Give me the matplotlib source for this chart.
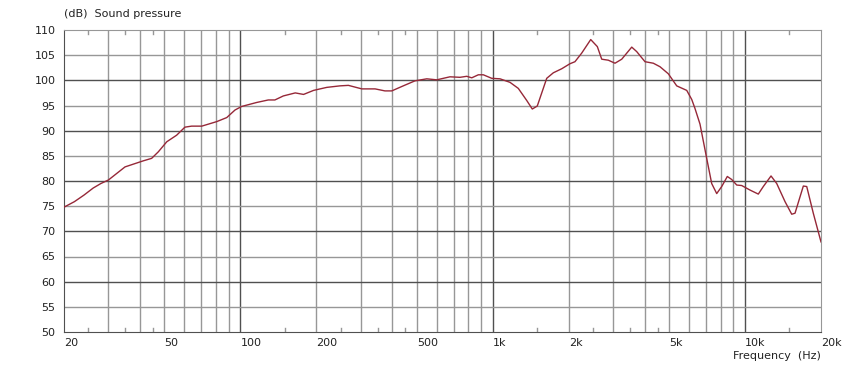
import matplotlib
matplotlib.use("Agg")
import matplotlib.pyplot as plt
import numpy as np

# frequency response
freq = [20, 22, 24, 26.1, 28, 30, 34.9, 41.2, 44.5, 47.3, 51.1, 55.9, 60.3, 64.1, 70.3,
        80.6, 88.3, 95.2, 101, 116, 129, 137, 148, 165, 178, 195, 207, 220, 248, 268,
        303, 342, 374, 398, 442, 492, 548, 600, 677, 742, 789, 826, 877, 918, 991,
        1069, 1171, 1263, 1364, 1435, 1502, 1637, 1739, 1877, 2024, 2118, 2252, 2446,
        2598, 2704, 2872, 3053, 3246, 3556, 3722, 4014, 4330, 4603, 4966, 5361, 5874,
        6148, 6334, 6630, 7048, 7376, 7722, 8082, 8506, 8854, 9268, 9700, 10464, 11287,
        11814, 12676, 13352, 14404, 15310, 15778, 17022, 17558, 18642, 20000]
spl = [74.8, 75.9, 77.2, 78.6, 79.5, 80.2, 82.8, 84.0, 84.5, 85.8, 87.8, 89.1, 90.7, 90.9, 90.9,
       91.8, 92.6, 94.1, 94.8, 95.6, 96.1, 96.1, 96.9, 97.5, 97.2, 98.0, 98.3, 98.6, 98.9, 99.0,
       98.3, 98.3, 97.9, 97.9, 98.9, 99.9, 100.3, 100.1, 100.7, 100.6, 100.8, 100.5, 101.1, 101.1, 100.4,
       100.3, 99.6, 98.4, 96.0, 94.3, 94.9, 100.4, 101.5, 102.3, 103.3, 103.7, 105.4, 108.1,
       106.7, 104.2, 104.0, 103.4, 104.2, 106.6, 105.7, 103.7, 103.4, 102.7, 101.3, 98.9, 98.0,
       96.2, 94.4, 91.3, 84.5, 79.5, 77.5, 78.9, 80.9, 80.3, 79.2, 79.1, 78.2, 77.4,
       78.9, 81.0, 79.5, 75.9, 73.4, 73.6, 79.0, 78.9, 73.6, 67.9]

xticks = [20, 50, 100, 200, 500, 1000, 2000, 5000, 10000, 20000]
xlabels = ['20', '50', '100', '200', '500', '1k', '2k', '5k', '10k', '20k']
decades = [100, 1000, 10000]
grid_x = [f * m for m in [10, 100, 1000] for f in range(3, 10)] + [200, 2000]
minor_x = [25, 35, 45, 150, 250, 350, 450, 1500, 2500, 3500, 4500, 15000]
yticks = list(range(50, 111, 5))

DARK = '#505050'
LIGHT = '#979797'

fig = plt.figure(figsize=(8.44, 3.67), dpi=100)
ax = fig.add_axes([64/844, 35/367, 757/844, 302/367])
ax.set_xscale('log')
ax.set_xlim(20, 20000)
ax.set_ylim(50, 110)

# grid
for g in grid_x:
    ax.axvline(g, color=LIGHT, lw=1.0, zorder=1)
for g in decades:
    ax.axvline(g, color=DARK, lw=1.0, zorder=1)
for y in yticks[1:-1]:
    c = DARK if y % 10 == 0 else LIGHT
    ax.axhline(y, color=c, lw=1.0, zorder=1)

# small tick marks at top and bottom
for m in minor_x:
    ax.plot([m, m], [50, 50.8], color=LIGHT, lw=1.0, zorder=1)
    ax.plot([m, m], [109.2, 110], color=LIGHT, lw=1.0, zorder=1)

ax.plot(freq, spl, color='#962838', lw=1.0, zorder=3)

ax.set_xticks(xticks)
ax.set_xticklabels(xlabels, ha='left')
ax.xaxis.set_minor_locator(matplotlib.ticker.NullLocator())
ax.set_yticks(yticks)
ax.tick_params(length=0, labelsize=8, colors='#222222')
ax.tick_params(axis='y', pad=6)
ax.tick_params(axis='x', pad=4)

for s in ['left', 'bottom']:
    ax.spines[s].set_color(DARK)
for s in ['top', 'right']:
    ax.spines[s].set_color(LIGHT)

fig.text(64/844, 1 - 14/367, '(dB)  Sound pressure', fontsize=8, va='center', ha='left', color='#222222')
fig.text(821/844, 1 - 356/367, 'Frequency  (Hz)', fontsize=8, va='center', ha='right', color='#222222')

fig.savefig('out.png', dpi=100, facecolor='white')
